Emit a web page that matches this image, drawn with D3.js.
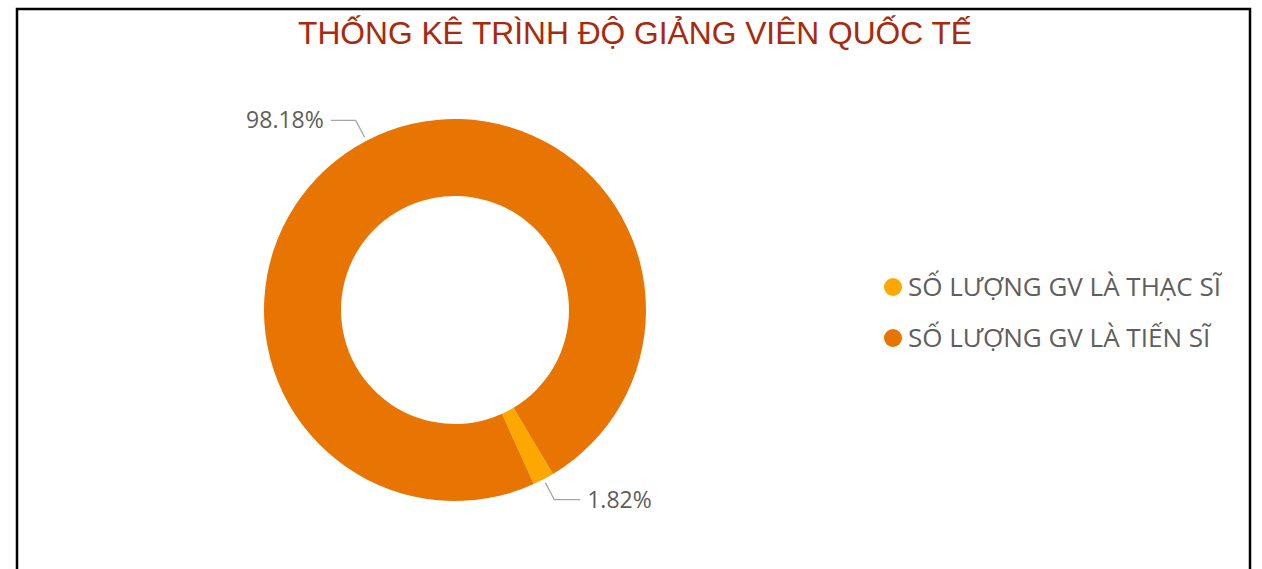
<!DOCTYPE html>
<html>
<head>
<meta charset="utf-8">
<script src="https://cdn.jsdelivr.net/npm/d3@7"></script>
<style>
  html, body { margin: 0; padding: 0; background: #fff; }
  svg { display: block; }
</style>
</head>
<body>
<svg id="svg" width="1262" height="569"></svg>
<script>
// data
const categories = ["SỐ LƯỢNG GV LÀ THẠC SĨ", "SỐ LƯỢNG GV LÀ TIẾN SĨ"];
const shares = [1.82, 98.18];
const labels = ["1.82%", "98.18%"];
const colors = ["#FCA800", "#E87401"];
const title = "THỐNG KÊ TRÌNH ĐỘ GIẢNG VIÊN QUỐC TẾ";

const width = 1262;
const height = 569;
const cx = 455, cy = 310;
const outerR = 191, innerR = 114;

const svg = d3.select("#svg");

// frame
svg.append("rect")
  .attr("x", 17).attr("y", 9)
  .attr("width", 1233).attr("height", 620)
  .attr("fill", "none")
  .attr("stroke", "#000")
  .attr("stroke-width", 2.5);

svg.append("text")
  .attr("x", 635).attr("y", 44)
  .attr("text-anchor", "middle")
  .attr("font-family", "'Liberation Sans', Arial, sans-serif")
  .attr("font-size", 32)
  .attr("fill", "#A8290C")
  .attr("textLength", 674)
  .attr("lengthAdjust", "spacingAndGlyphs")
  .text(title);

const rows = categories.map((c, i) => ({ name: c, value: shares[i], label: labels[i], color: colors[i] }));

const pie = d3.pie()
  .value(d => d.value)
  .sort(null)
  .startAngle(149.1 * Math.PI / 180)
  .endAngle((149.1 + 360) * Math.PI / 180);

const arc = d3.arc().innerRadius(innerR).outerRadius(outerR);
const arcs = pie(rows);

const g = svg.append("g").attr("transform", `translate(${cx},${cy})`);

g.selectAll("path.slice")
  .data(arcs)
  .join("path")
  .attr("class", "slice")
  .attr("d", arc)
  .attr("fill", d => d.data.color);

// leader lines + labels
const startArc = d3.arc().innerRadius(195).outerRadius(195);
const elbowArc = d3.arc().innerRadius(214).outerRadius(214);

arcs.forEach(d => {
  const p0 = startArc.centroid(d);
  const p1 = elbowArc.centroid(d);
  const right = p1[0] > 0;
  const p2 = [p1[0] + (right ? 26 : -25), p1[1]];
  g.append("polyline")
    .attr("points", [p0, p1, p2].map(p => p.join(",")).join(" "))
    .attr("fill", "none")
    .attr("stroke", "#A6A6A6")
    .attr("stroke-width", 1.3);
  g.append("text")
    .attr("x", p2[0] + (right ? 7 : -7))
    .attr("y", p2[1] + 8)
    .attr("text-anchor", right ? "start" : "end")
    .attr("font-family", "'Segoe UI', 'Open Sans', 'Noto Sans', sans-serif")
    .attr("font-size", 23)
    .attr("fill", "#605E5C")
    .text(d.data.label);
});

// legend
const legend = svg.append("g").attr("transform", "translate(893,287)");
const item = legend.selectAll("g")
  .data(rows)
  .join("g")
  .attr("transform", (d, i) => `translate(0,${i * 51})`);

item.append("circle")
  .attr("r", 9)
  .attr("fill", d => d.color);

item.append("text")
  .attr("x", 15)
  .attr("y", 9)
  .attr("font-family", "'Segoe UI', 'Open Sans', 'Noto Sans', sans-serif")
  .attr("font-size", 26)
  .attr("fill", "#605E5C")
  .text(d => d.name);
</script>
</body>
</html>
